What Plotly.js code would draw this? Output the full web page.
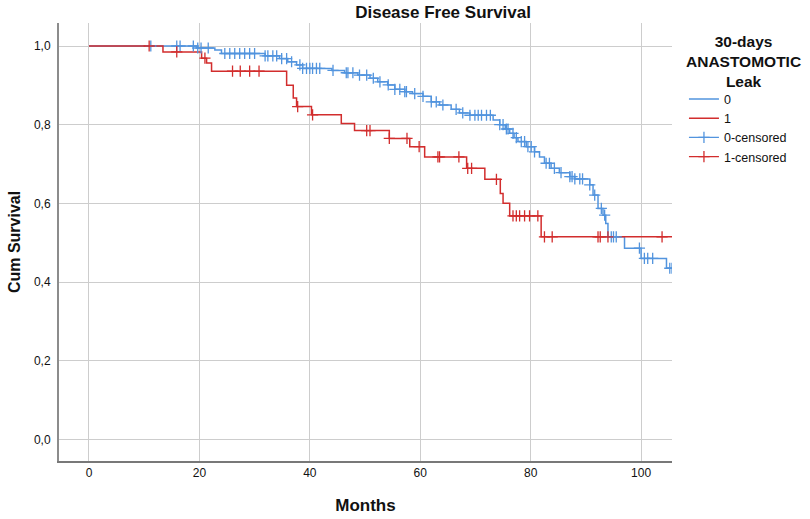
<!DOCTYPE html>
<html>
<head>
<meta charset="utf-8">
<script src="https://cdn.plot.ly/plotly-3.0.1.min.js"></script>
<style>
  html, body { margin: 0; padding: 0; background: #fff; }
  #km { width: 810px; height: 519px; }
</style>
</head>
<body>
<div id="km"></div>
<script>
// group 0 (no leak): event times and survival after each step, last point = end of follow-up
var timesNoLeak = [0, 19.5, 22.8, 24.0, 31.9, 34.5, 36.0, 37.6, 38.7, 44.0, 46.3, 48.7, 50.9, 52.3,
    54.1, 55.4, 57.2, 58.6, 60.5, 62.0, 63.5, 65.6, 67.1, 69.0, 73.2, 74.4, 75.4, 76.2, 77.0, 77.7,
    79.2, 80.7, 81.6, 82.5, 83.7, 85.2, 87.1, 88.0, 90.7, 91.3, 92.2, 93.1, 93.6, 94.0, 97.0, 100.0,
    104.6, 106];
var survNoLeak = [1.0, 0.995, 0.99, 0.981, 0.975, 0.968, 0.96, 0.952, 0.943, 0.938, 0.932, 0.926, 0.918, 0.909,
    0.901, 0.89, 0.884, 0.879, 0.872, 0.858, 0.85, 0.839, 0.83, 0.824, 0.812, 0.8, 0.789, 0.778, 0.767, 0.757,
    0.744, 0.731, 0.718, 0.702, 0.689, 0.678, 0.668, 0.662, 0.647, 0.621, 0.587, 0.57, 0.549, 0.515, 0.486, 0.46,
    0.435, 0.435];
var censNoLeak = [11.2, 15.9, 16.5, 18.9, 19.7, 20.3, 21.6, 24.6, 25.5, 26.4, 27.3, 28.2, 29.1, 30.0,
    31.9, 32.4, 33.3, 34.0, 34.9, 35.8, 36.7, 38.2, 38.7, 39.4, 40.0, 40.5, 41.2, 41.8, 44.2,
    46.6, 46.9, 47.8, 49.0, 50.3, 51.5, 52.7, 54.2, 55.4, 56.3, 57.2, 57.5, 59.0, 60.5, 62.0, 62.9,
    64.1, 66.5, 67.7, 69.0, 69.9, 70.5, 71.1, 72.0, 72.7, 74.4, 75.0, 75.6, 75.9, 76.8, 77.4, 78.3,
    78.9, 79.5, 80.1, 80.7, 82.8, 83.4, 84.3, 85.5, 87.1, 87.5, 88.0, 88.9, 89.4, 90.7, 91.6, 92.8,
    93.4, 94.6, 95.0, 95.5, 99.7, 100.6, 101.2, 102.1, 105.2, 105.6];

// group 1 (leak)
var timesLeak = [0, 13.4, 20.4, 21.3, 22.2, 35.8, 37.0, 37.6, 40.3, 45.7, 48.1, 54.4, 58.1, 60.8,
    68.4, 71.7, 74.5, 75.0, 76.2, 81.9, 106];
var survLeak = [1.0, 0.985, 0.969, 0.957, 0.936, 0.90, 0.868, 0.846, 0.825, 0.803, 0.785, 0.765, 0.744, 0.718,
    0.689, 0.661, 0.625, 0.60, 0.568, 0.515, 0.515];
var censLeak = [10.9, 15.9, 21.0, 26.0, 27.4, 29.1, 30.8, 37.8, 40.5, 50.3, 50.9, 54.4, 57.6, 59.8,
    63.2, 63.5, 67.0, 68.6, 69.3, 73.8, 76.8, 77.4, 78.0, 78.9, 79.8, 81.3, 82.5, 83.9, 92.2, 92.6,
    94.0, 103.8];

var xTicks = [0, 20, 40, 60, 80, 100];
var yTicks = [0, 0.2, 0.4, 0.6, 0.8, 1.0];
var yTickText = ['0,0', '0,2', '0,4', '0,6', '0,8', '1,0'];

var blue = 'rgb(82, 148, 222)';
var red = 'rgb(210, 45, 45)';

// survival value of the step curve at time t
survAt = function(times, surv, t) {
    var s = surv[0];
    for (var i = 0; i < times.length; i++) {
        if (times[i] <= t) s = surv[i];
    }
    return s;
}

// censor marks as separate points (nulls in between) so the legend shows a line with a cross
censorXY = function(cens, times, surv) {
    var xs = [], ys = [];
    cens.forEach(function(t) {
        xs.push(t, null);
        ys.push(survAt(times, surv, t), null);
    });
    return {x: xs, y: ys};
}

var c0 = censorXY(censNoLeak, timesNoLeak, survNoLeak);
var c1 = censorXY(censLeak, timesLeak, survLeak);

var data = [
    {
        x: timesNoLeak, y: survNoLeak, name: '0',
        type: 'scatter', mode: 'lines',
        line: {shape: 'hv', color: blue, width: 1.5},
        hoverinfo: 'none'
    },
    {
        x: timesLeak, y: survLeak, name: '1',
        type: 'scatter', mode: 'lines',
        line: {shape: 'hv', color: red, width: 1.5},
        hoverinfo: 'none'
    },
    {
        x: c0.x, y: c0.y, name: '0-censored',
        type: 'scatter', mode: 'lines+markers', connectgaps: false,
        line: {color: blue, width: 1.3},
        marker: {symbol: 'cross-thin', size: 8, line: {color: blue, width: 1.3}},
        hoverinfo: 'none'
    },
    {
        x: c1.x, y: c1.y, name: '1-censored',
        type: 'scatter', mode: 'lines+markers', connectgaps: false,
        line: {color: red, width: 1.3},
        marker: {symbol: 'cross-thin', size: 8, line: {color: red, width: 1.3}},
        hoverinfo: 'none'
    }
];

var font = 'Liberation Sans, Arial, sans-serif';

var layout = {
    width: 810,
    height: 519,
    margin: {t: 23, b: 58, l: 59, r: 138, autoexpand: false},
    paper_bgcolor: 'white',
    plot_bgcolor: 'white',
    font: {family: font, color: '#111', size: 12},
    title: {
        text: '<b>Disease Free Survival</b>',
        font: {family: font, size: 17, color: '#111'},
        x: 0.547, xanchor: 'center',
        y: 0.976, yanchor: 'middle'
    },
    xaxis: {
        range: [-5.43, 105.6],
        tickvals: xTicks,
        ticks: '',
        showgrid: true,
        gridcolor: 'rgb(205,205,205)',
        gridwidth: 1,
        zeroline: false,
        showline: true,
        linecolor: 'rgb(120,120,120)',
        linewidth: 2,
        tickfont: {size: 12},
        title: {text: '<b>Months</b>', font: {size: 17}, standoff: 20},
        fixedrange: true
    },
    yaxis: {
        range: [-0.055, 1.0585],
        tickvals: yTicks,
        ticktext: yTickText,
        ticks: '',
        ticklabelstandoff: 4,
        showgrid: true,
        gridcolor: 'rgb(205,205,205)',
        gridwidth: 1,
        zeroline: false,
        showline: true,
        linecolor: 'rgb(140,140,140)',
        linewidth: 2,
        tickfont: {size: 12},
        title: {text: '<b>Cum Survival</b>', font: {size: 16}, standoff: 9},
        fixedrange: true
    },
    showlegend: true,
    legend: {
        x: 1.0195, xanchor: 'left',
        y: 0.86, yanchor: 'top',
        font: {size: 12.5},
        itemwidth: 30,
        tracegroupgap: 0,
        bgcolor: 'rgba(0,0,0,0)'
    },
    annotations: [{
        text: '<b>30-days<br>ANASTOMOTIC<br>Leak</b>',
        xref: 'paper', yref: 'paper',
        x: 1.116, y: 0.912,
        xanchor: 'center', yanchor: 'middle',
        align: 'center',
        showarrow: false,
        font: {size: 15.5, color: '#111'}
    }]
};

Plotly.newPlot('km', data, layout, {displayModeBar: false, staticPlot: true});
</script>
</body>
</html>
